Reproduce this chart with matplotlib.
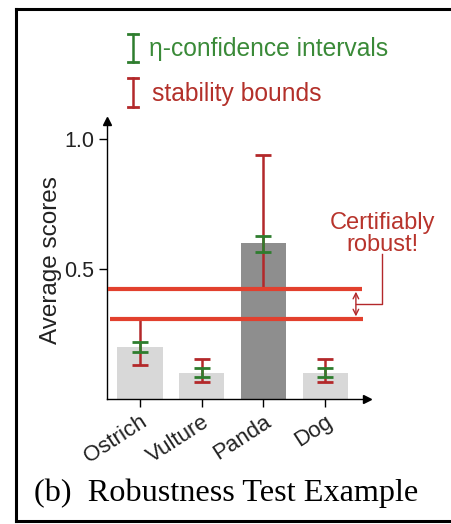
import matplotlib.pyplot as plt
from matplotlib.lines import Line2D

plt.rcParams['font.family'] = ['Liberation Sans', 'DejaVu Sans']

classes = ['Ostrich', 'Vulture', 'Panda', 'Dog']
scores = [0.2, 0.1, 0.6, 0.1]
conf_lo = [0.18, 0.085, 0.565, 0.085]
conf_hi = [0.22, 0.12, 0.627, 0.12]
stab_lo = [0.13, 0.065, 0.423, 0.065]
stab_hi = [0.308, 0.154, 0.94, 0.154]
upper_bound = 0.423   # lowest stability bound of the predicted class
lower_bound = 0.308   # highest stability bound of the other classes

bar_colors = ['#d8d8d8', '#d8d8d8', '#8e8e8e', '#d8d8d8']
red = '#b3282a'
bright_red = '#e2402e'
green = '#2e7d2e'

fig = plt.figure(figsize=(4.52, 5.24), dpi=100)
W, H = 452, 524

def fx(px):
    return px / W

def fy(py):
    return 1 - py / H

ax = fig.add_axes([fx(107), fy(399), fx(367) - fx(107), fy(121) - fy(399)])
ax.set_xlim(-0.535, 3.68)
ax.set_ylim(0, 1.07)

x = list(range(len(classes)))
ax.bar(x, scores, width=0.73, color=bar_colors, zorder=1)

# stability bounds (red) and confidence intervals (green)
mid = [(a + b) / 2 for a, b in zip(stab_lo, stab_hi)]
err = [(b - a) / 2 for a, b in zip(stab_lo, stab_hi)]
ax.errorbar(x, mid, yerr=err, fmt='none', ecolor=red, elinewidth=1.8,
            capsize=5.5, capthick=2.0, zorder=2)
mid = [(a + b) / 2 for a, b in zip(conf_lo, conf_hi)]
err = [(b - a) / 2 for a, b in zip(conf_lo, conf_hi)]
ax.errorbar(x, mid, yerr=err, fmt='none', ecolor=green, elinewidth=1.8,
            capsize=5.5, capthick=2.0, zorder=3)

ax.hlines(upper_bound, -0.52, 3.60, color=bright_red, lw=3, zorder=4)
ax.hlines(lower_bound, -0.49, 3.61, color=bright_red, lw=3, zorder=4)

# gap between the bounds
ax.annotate('', xy=(3.50, lower_bound + 0.01), xytext=(3.50, upper_bound - 0.01),
            arrowprops=dict(arrowstyle='<->', color=red, lw=1.0,
                            shrinkA=0, shrinkB=0))
gap_mid = (upper_bound + lower_bound) / 2
ax.plot([3.50, 3.93, 3.93], [gap_mid, gap_mid, 0.56], color=red, lw=1.0,
        clip_on=False)
ax.text(3.93, 0.635, 'Certifiably\nrobust!', color='#b8342c', fontsize=17,
        ha='center', va='center', linespacing=1.0)

# axes with arrow heads
for side in ['top', 'right']:
    ax.spines[side].set_visible(False)
for side in ['left', 'bottom']:
    ax.spines[side].set_linewidth(1.0)
ax.plot(0, 1, '^k', ms=6, transform=ax.transAxes, clip_on=False)
ax.plot(1, 0, '>k', ms=6, transform=ax.transAxes, clip_on=False)

ax.set_yticks([0.5, 1.0])
ax.set_yticklabels(['0.5', '1.0'], fontsize=15.5, color='#222222')
ax.set_xticks(x)
ax.set_xticklabels(classes, fontsize=16, rotation=33, ha='right',
                   rotation_mode='anchor', color='#222222')
ax.tick_params(length=6, width=1.0, pad=3)
ax.set_ylabel('Average scores', fontsize=17.5, labelpad=2, color='#222222')

# legend glyphs
def ibar(px, top, bot, color):
    fig.add_artist(Line2D([fx(px), fx(px)], [fy(top), fy(bot)], color=color, lw=1.8))
    for py in (top, bot):
        fig.add_artist(Line2D([fx(px - 5.5), fx(px + 5.5)], [fy(py), fy(py)],
                              color=color, lw=2.0))

ibar(133, 34, 62, green)
ibar(133, 78, 107, red)
fig.text(fx(149), fy(49), 'η-confidence intervals', color='#3a8a38',
         fontsize=17.7, va='center')
fig.text(fx(152), fy(94), 'stability bounds', color='#b3302a',
         fontsize=17.7, va='center')

fig.text(fx(226), fy(493), '(b)  Robustness Test Example',
         family=['Liberation Serif', 'DejaVu Serif'], fontsize=23.2,
         ha='center', va='center')

# frame: left, top and bottom edges only
for xs, ys in [([16, 16], [9, 521]), ([16, 460], [9, 9]), ([16, 460], [521, 521])]:
    fig.add_artist(Line2D([fx(v) for v in xs], [fy(v) for v in ys],
                          color='black', lw=2.2))

fig.savefig('out.png', dpi=100)
